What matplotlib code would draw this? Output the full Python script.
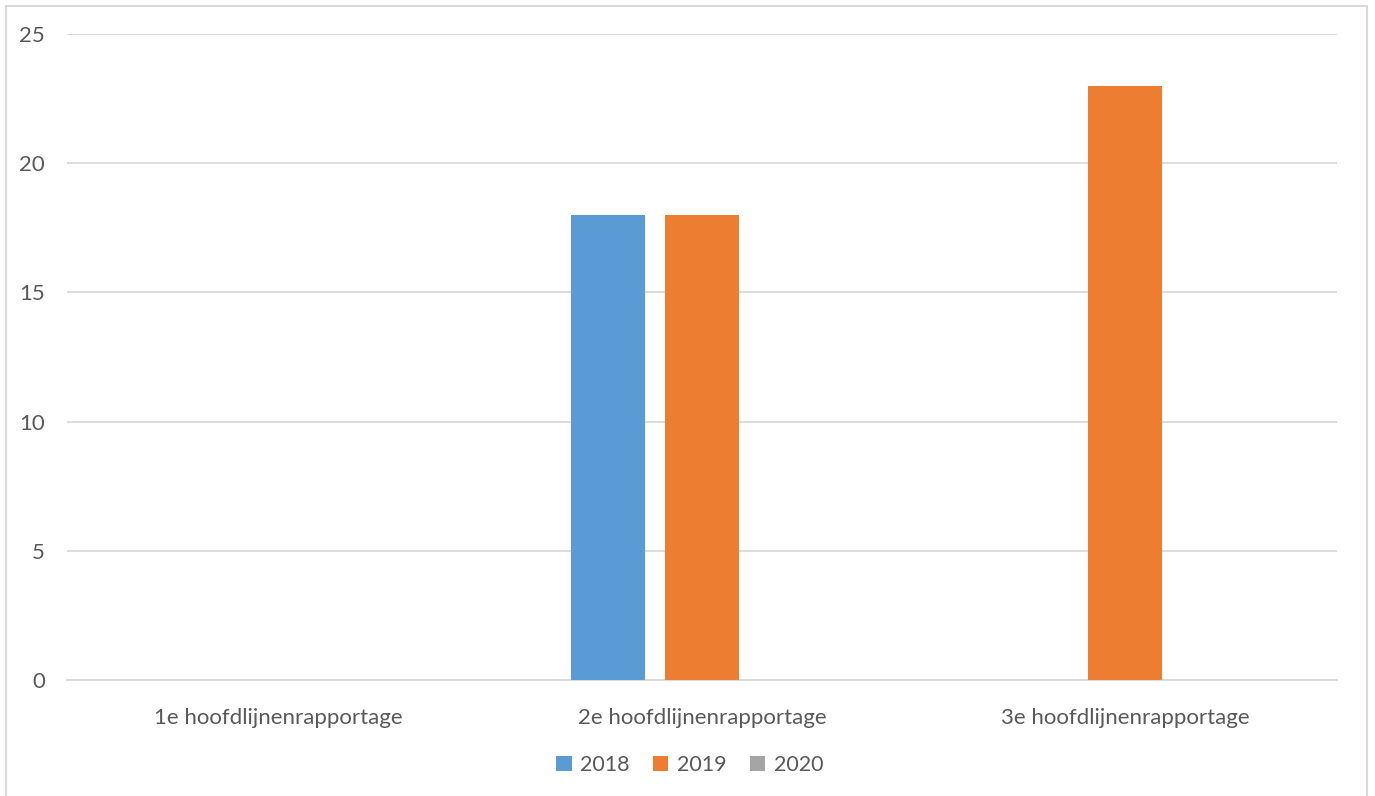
import matplotlib
matplotlib.use("Agg")
import matplotlib.pyplot as plt
import numpy as np
from matplotlib.patches import Rectangle

categories = ["1e hoofdlijnenrapportage", "2e hoofdlijnenrapportage", "3e hoofdlijnenrapportage"]
series_names = ["2018", "2019", "2020"]
v2018 = [0, 18, 0]
v2019 = [0, 18, 23]
v2020 = [0, 0, 0]
yticks = [0, 5, 10, 15, 20, 25]

colors = ["#5B9BD5", "#ED7D31", "#A5A5A5"]
text_color = "#595959"

plt.rcParams['font.family'] = ['Lato', 'DejaVu Sans']

fig = plt.figure(figsize=(13.75, 7.96), dpi=100)
ax = fig.add_axes([67/1375, 116/796, 1270/1375, 646/796])

x = np.arange(len(categories))
w = 74/423.3
off = 94/423.3
for i, (vals, name) in enumerate(zip([v2018, v2019, v2020], series_names)):
    ax.bar(x + (i - 1) * off, vals, width=w, color=colors[i], label=name, zorder=3)

ax.set_xlim(-0.5, 2.5)
ax.set_ylim(0, 25)
ax.set_yticks(yticks)
ax.set_yticklabels([str(t) for t in yticks])
ax.set_xticks(x)
ax.set_xticklabels(categories)
ax.yaxis.grid(True, color="#D9D9D9", linewidth=1.3, zorder=0)
ax.set_axisbelow(True)
for s in ["top", "right", "left"]:
    ax.spines[s].set_visible(False)
ax.spines["bottom"].set_color("#D9D9D9")
ax.spines["bottom"].set_linewidth(1.3)
ax.tick_params(axis="both", length=0, colors=text_color)
ax.tick_params(axis="y", pad=16, labelsize=16)
ax.tick_params(axis="x", pad=20, labelsize=16)

leg = fig.legend(loc="center", bbox_to_anchor=(690/1375, 1 - 765/796), ncol=3,
                 frameon=False, fontsize=15.5, handlelength=0.7, handleheight=0.7,
                 columnspacing=1.1, handletextpad=0.4)
for t in leg.get_texts():
    t.set_color(text_color)

fig.patches.append(Rectangle((6/1375, -0.05), (1367-6)/1375, 1.05 - 6/796,
                             transform=fig.transFigure, fill=False,
                             edgecolor="#D9D9D9", linewidth=1.5))

fig.savefig("out.png", dpi=100, facecolor="white")
